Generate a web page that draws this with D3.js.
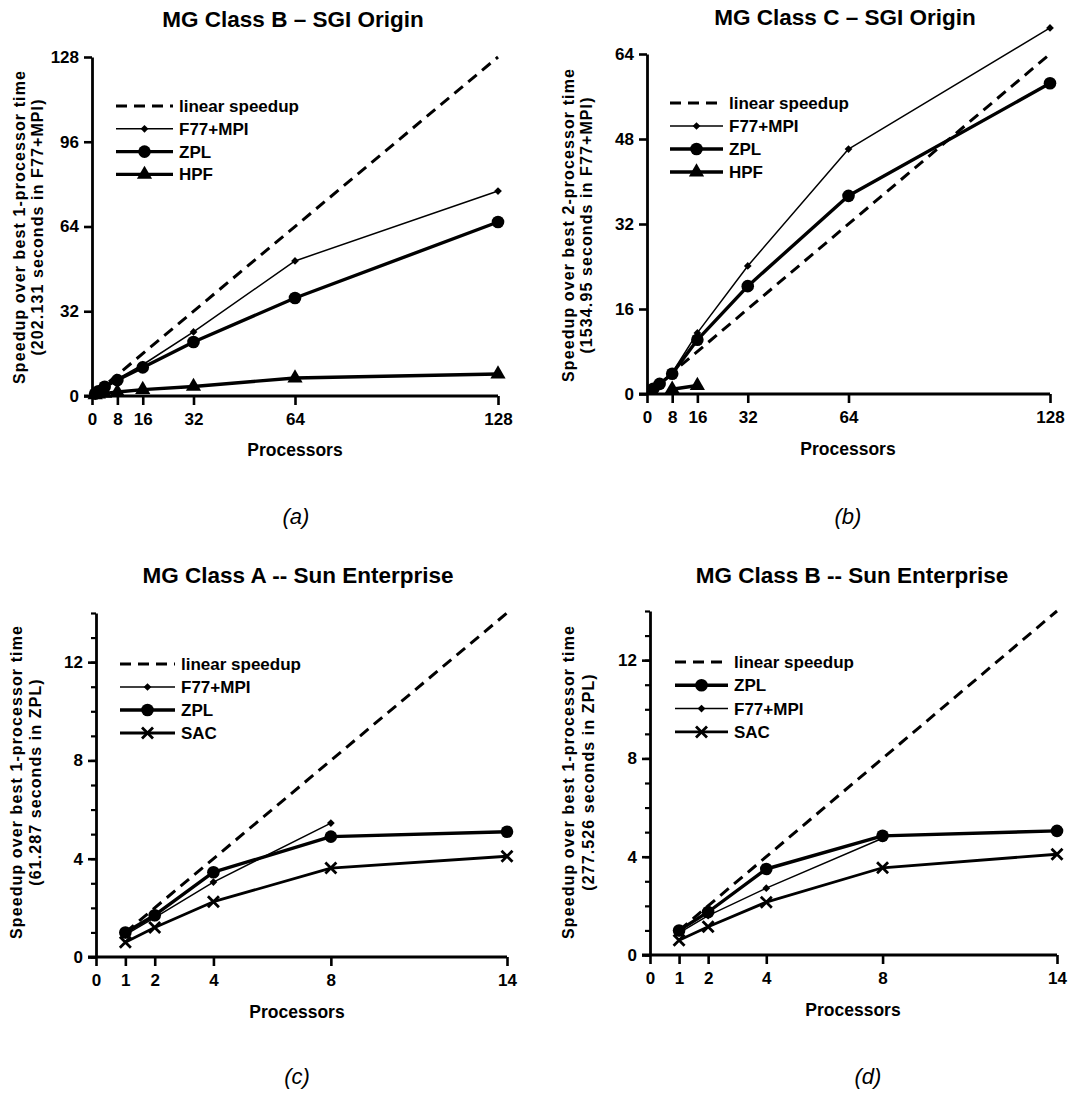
<!DOCTYPE html>
<html><head><meta charset="utf-8">
<script src="https://cdn.jsdelivr.net/npm/d3@7"></script>
<style>
body{margin:0;background:#fff;}
text{font-family:"Liberation Sans",Arial,Helvetica,sans-serif;fill:#000;}
</style></head>
<body>
<svg id="chart" width="1091" height="1094"></svg>
<script>
// ---------- data ----------
const sgiProcs = [1, 2, 4, 8, 16, 32, 64, 128];
const sgiXTicks = [0, 8, 16, 32, 64, 128];
const aYTicks = [0, 32, 64, 96, 128];
const aLinearX = [1, 128];
const aLinearY = [1, 128];
const aF77 = [1, 2, 3.8, 6.5, 11.8, 24.2, 51, 77.4];
const aZPL = [0.9, 1.8, 3.5, 6, 10.8, 20.4, 37, 65.7];
const aHPF = [0.4, 0.7, 1.0, 1.5, 2.4, 3.6, 6.8, 8.3];

const bProcs = [2, 4, 8, 16, 32, 64, 128];
const bYTicks = [0, 16, 32, 48, 64];
const bLinearX = [2, 128];
const bLinearY = [1, 64];
const bF77 = [1, 2, 4, 11.5, 24.1, 46.1, 68.9];
const bZPL = [1, 1.9, 3.8, 10.2, 20.3, 37.3, 58.5];
const bHPFProcs = [8, 16];
const bHPF = [0.9, 1.6];

const sunProcs = [1, 2, 4, 8, 14];
const sunF77Procs = [1, 2, 4, 8];
const sunXTicks = [0, 1, 2, 4, 8, 14];
const sunYTicks = [0, 4, 8, 12];
const sunYMinor = [0,1,2,3,4,5,6,7,8,9,10,11,12,13,14];
const sunLinearX = [1, 14];
const sunLinearY = [1, 14];
const cF77 = [0.9, 1.6, 3.05, 5.45];
const cZPL = [1.0, 1.7, 3.45, 4.9, 5.1];
const cSAC = [0.6, 1.2, 2.25, 3.62, 4.1];
const dZPL = [1.0, 1.75, 3.5, 4.85, 5.05];
const dF77 = [0.9, 1.6, 2.72, 4.75];
const dSAC = [0.6, 1.15, 2.15, 3.55, 4.1];

const titles = ["MG Class B \u2013 SGI Origin", "MG Class C \u2013 SGI Origin",
                "MG Class A -- Sun Enterprise", "MG Class B -- Sun Enterprise"];
const yLabel1 = ["Speedup over best 1-processor time", "Speedup over best 2-processor time",
                 "Speedup over best 1-processor time", "Speedup over best 1-processor time"];
const yLabel2 = ["(202.131 seconds in F77+MPI)", "(1534.95 seconds in F77+MPI)",
                 "(61.287 seconds in ZPL)", "(277.526 seconds in ZPL)"];
const subLabels = ["(a)", "(b)", "(c)", "(d)"];
const xLabel = "Processors";

// ---------- styles ----------
const styles = {
  linear: {w: 3, dash: "11,7", marker: null},
  F77: {w: 1.5, marker: "diamond"},
  ZPL: {w: 3.4, marker: "circle"},
  HPF: {w: 3.4, marker: "triangle"},
  SAC: {w: 2.8, marker: "x"}
};

const svg = d3.select("#chart");

function drawMarker(g, type, x, y) {
  if (!type) return;
  if (type === "circle") {
    g.append("circle").attr("cx", x).attr("cy", y).attr("r", 6.3).attr("fill", "#000");
  } else if (type === "diamond") {
    g.append("path").attr("d", d3.symbol(d3.symbolSquare, 30)())
      .attr("transform", `translate(${x},${y}) rotate(45)`).attr("fill", "#000");
  } else if (type === "triangle") {
    g.append("path").attr("d", d3.symbol(d3.symbolTriangle, 100)()).attr("transform", `translate(${x},${y})`).attr("fill", "#000");
  } else if (type === "x") {
    const s = 5.5;
    g.append("path").attr("d", `M${x-s},${y-s}L${x+s},${y+s}M${x-s},${y+s}L${x+s},${y-s}`)
      .attr("stroke", "#000").attr("stroke-width", 2.8).attr("fill", "none");
  }
}

function drawPanel(p) {
  const g = svg.append("g");
  const x = d3.scaleLinear().domain(p.xDomain).range(p.xRange);
  const y = d3.scaleLinear().domain(p.yDomain).range(p.yRange);

  // axes
  const xAxis = d3.axisBottom(x).tickValues(p.xTicks).tickSize(9).tickSizeOuter(0).tickPadding(4);
  const gx = g.append("g").attr("transform", `translate(0,${p.yRange[0]})`).call(xAxis);
  gx.select(".domain").attr("stroke-width", 2.8).attr("d", `M${p.xRange[0]-8},0H${p.xRange[1]}`);
  gx.selectAll(".tick line").attr("stroke-width", 2.6);
  gx.selectAll("text").attr("font-size", 17).attr("font-weight", "bold").attr("dy", "0.95em");

  if (p.yMinor) {
    const ym = d3.axisLeft(y).tickValues(p.yMinor).tickSize(5).tickFormat("");
    const gym = g.append("g").attr("transform", `translate(${p.xRange[0]},0)`).call(ym);
    gym.select(".domain").remove();
    gym.selectAll(".tick line").attr("stroke-width", 2.2);
  }
  const yAxis = d3.axisLeft(y).tickValues(p.yTicks).tickSize(8).tickSizeOuter(0).tickPadding(5);
  const gy = g.append("g").attr("transform", `translate(${p.xRange[0]},0)`).call(yAxis);
  gy.select(".domain").attr("stroke-width", 2.8);
  gy.selectAll(".tick line").attr("stroke-width", 2.6);
  gy.selectAll("text").attr("font-size", 17).attr("font-weight", "bold");

  // series
  const line = d3.line().x(d => x(d[0])).y(d => y(d[1]));
  p.series.forEach(s => {
    const st = styles[s.key];
    const pts = s.xs.map((v, i) => [v, s.ys[i]]);
    g.append("path").attr("d", line(pts)).attr("fill", "none").attr("stroke", "#000")
      .attr("stroke-width", st.w).attr("stroke-dasharray", st.dash || null).attr("stroke-linejoin", "round");
    if (st.marker) pts.forEach(d => drawMarker(g, st.marker, x(d[0]), y(d[1])));
  });

  // legend
  p.legend.forEach((k, i) => {
    const st = styles[k.key];
    const ly = p.legY + i * p.legDy;
    g.append("line").attr("x1", p.legX).attr("x2", p.legX + p.legW).attr("y1", ly).attr("y2", ly)
      .attr("stroke", "#000").attr("stroke-width", st.w).attr("stroke-dasharray", st.dash || null);
    drawMarker(g, st.marker, p.legX + p.legW / 2, ly);
    g.append("text").attr("x", p.legX + p.legW + 6).attr("y", ly + 6).attr("font-size", 17)
      .attr("font-weight", "bold").text(k.label);
  });

  // texts
  g.append("text").attr("x", p.titleX).attr("y", p.titleY).attr("text-anchor", "middle")
    .attr("font-size", 22.5).attr("font-weight", "bold").text(p.title);
  g.append("text").attr("x", p.xLabX).attr("y", p.xLabY).attr("text-anchor", "middle")
    .attr("font-size", 17.5).attr("font-weight", "bold").text(xLabel);
  g.append("text").attr("transform", `translate(${p.yLabX1},${p.yLabC}) rotate(-90)`).attr("text-anchor", "middle")
    .attr("font-size", 16).attr("font-weight", "bold").attr("letter-spacing", 1.1).text(p.yl1);
  g.append("text").attr("transform", `translate(${p.yLabX2},${p.yLabC}) rotate(-90)`).attr("text-anchor", "middle")
    .attr("font-size", 16).attr("font-weight", "bold").attr("letter-spacing", 1.1).text(p.yl2);
  g.append("text").attr("x", p.subX).attr("y", p.subY).attr("text-anchor", "middle")
    .attr("font-family", "'Liberation Serif','Times New Roman',serif").attr("font-style", "italic")
    .attr("font-size", 22).text(p.sub);
}

// panel (a)
drawPanel({
  xDomain: [0, 128], xRange: [92, 498], yDomain: [0, 128], yRange: [396, 57],
  xTicks: sgiXTicks, yTicks: aYTicks,
  series: [
    {key: "linear", xs: aLinearX, ys: aLinearY},
    {key: "HPF", xs: sgiProcs, ys: aHPF},
    {key: "ZPL", xs: sgiProcs, ys: aZPL},
    {key: "F77", xs: sgiProcs, ys: aF77}
  ],
  legend: [{key: "linear", label: "linear speedup"}, {key: "F77", label: "F77+MPI"},
           {key: "ZPL", label: "ZPL"}, {key: "HPF", label: "HPF"}],
  legX: 116, legW: 57, legY: 106, legDy: 22.8,
  title: titles[0], titleX: 293, titleY: 27,
  xLabX: 295, xLabY: 456, yLabX1: 25, yLabX2: 43, yLabC: 227,
  yl1: yLabel1[0], yl2: yLabel2[0], sub: subLabels[0], subX: 296, subY: 524
});

// panel (b)
drawPanel({
  xDomain: [0, 128], xRange: [647, 1050], yDomain: [0, 64], yRange: [394, 54],
  xTicks: sgiXTicks, yTicks: bYTicks,
  series: [
    {key: "linear", xs: bLinearX, ys: bLinearY},
    {key: "HPF", xs: bHPFProcs, ys: bHPF},
    {key: "ZPL", xs: bProcs, ys: bZPL},
    {key: "F77", xs: bProcs, ys: bF77}
  ],
  legend: [{key: "linear", label: "linear speedup"}, {key: "F77", label: "F77+MPI"},
           {key: "ZPL", label: "ZPL"}, {key: "HPF", label: "HPF"}],
  legX: 670, legW: 53, legY: 103, legDy: 23,
  title: titles[1], titleX: 845, titleY: 25,
  xLabX: 848, xLabY: 455, yLabX1: 574, yLabX2: 592, yLabC: 225,
  yl1: yLabel1[1], yl2: yLabel2[1], sub: subLabels[1], subX: 848, subY: 524
});

// panel (c)
drawPanel({
  xDomain: [0, 14], xRange: [96, 507], yDomain: [0, 14], yRange: [957, 613],
  xTicks: sunXTicks, yTicks: sunYTicks, yMinor: sunYMinor,
  series: [
    {key: "linear", xs: sunLinearX, ys: sunLinearY},
    {key: "SAC", xs: sunProcs, ys: cSAC},
    {key: "ZPL", xs: sunProcs, ys: cZPL},
    {key: "F77", xs: sunF77Procs, ys: cF77}
  ],
  legend: [{key: "linear", label: "linear speedup"}, {key: "F77", label: "F77+MPI"},
           {key: "ZPL", label: "ZPL"}, {key: "SAC", label: "SAC"}],
  legX: 120, legW: 55, legY: 664, legDy: 23,
  title: titles[2], titleX: 298, titleY: 583,
  xLabX: 297, xLabY: 1018, yLabX1: 22, yLabX2: 41, yLabC: 782,
  yl1: yLabel1[2], yl2: yLabel2[2], sub: subLabels[2], subX: 297, subY: 1084
});

// panel (d)
drawPanel({
  xDomain: [0, 14], xRange: [650, 1057], yDomain: [0, 14], yRange: [955, 611],
  xTicks: sunXTicks, yTicks: sunYTicks, yMinor: sunYMinor,
  series: [
    {key: "linear", xs: sunLinearX, ys: sunLinearY},
    {key: "SAC", xs: sunProcs, ys: dSAC},
    {key: "F77", xs: sunF77Procs, ys: dF77},
    {key: "ZPL", xs: sunProcs, ys: dZPL}
  ],
  legend: [{key: "linear", label: "linear speedup"}, {key: "ZPL", label: "ZPL"},
           {key: "F77", label: "F77+MPI"}, {key: "SAC", label: "SAC"}],
  legX: 675, legW: 53, legY: 662, legDy: 23.3,
  title: titles[3], titleX: 852, titleY: 583,
  xLabX: 853, xLabY: 1016, yLabX1: 574, yLabX2: 594, yLabC: 782,
  yl1: yLabel1[3], yl2: yLabel2[3], sub: subLabels[3], subX: 868, subY: 1084
});
</script>
</body></html>
